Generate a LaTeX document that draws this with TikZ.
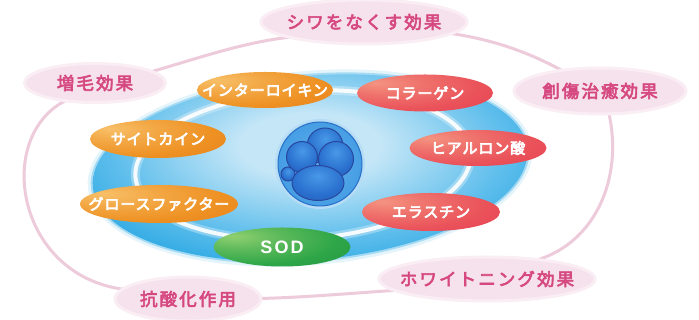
\documentclass[tikz,border=0pt]{standalone}
\usepackage{fontspec}
\usetikzlibrary{shapes.geometric}

\newfontfamily\effectfont{Noto Sans CJK JP}[LetterSpace=12, FakeBold=3.5]
\newfontfamily\agentfont{Noto Sans CJK JP}[LetterSpace=6, FakeBold=4.5]
\newfontfamily\latinagent{Liberation Sans}[LetterSpace=12]

% palette
\definecolor{LabFill}{RGB}{246,226,236}
\definecolor{LabEdge}{RGB}{250,238,244}
\definecolor{LabText}{RGB}{214,72,128}
\definecolor{LoopPink}{RGB}{237,203,218}
\definecolor{OrHi}{RGB}{248,192,105}
\definecolor{OrMain}{RGB}{238,145,35}
\definecolor{OrDark}{RGB}{226,116,25}
\definecolor{RedHi}{RGB}{244,148,128}
\definecolor{RedMain}{RGB}{234,82,90}
\definecolor{RedDark}{RGB}{226,56,76}
\definecolor{GrHi}{RGB}{145,208,112}
\definecolor{GrMain}{RGB}{46,166,72}
\definecolor{GrDark}{RGB}{28,140,60}
\definecolor{DiscCore}{RGB}{196,230,247}
\definecolor{DiscMid}{RGB}{95,190,236}
\definecolor{DiscMain}{RGB}{28,162,224}
\definecolor{CellHi}{RGB}{95,178,236}
\definecolor{CellMain}{RGB}{55,145,222}
\definecolor{CellLine}{RGB}{38,112,200}
\definecolor{BlobHi}{RGB}{72,152,232}
\definecolor{BlobMain}{RGB}{42,112,206}
\definecolor{BlobDark}{RGB}{36,78,170}
\definecolor{BlobLine}{RGB}{40,72,160}

% shadings
\pgfdeclareradialshading{orangeball}{\pgfpoint{-18bp}{14bp}}{color(0bp)=(OrHi); color(14bp)=(OrHi!50!OrMain); color(32bp)=(OrMain); color(62bp)=(OrDark); color(100bp)=(OrDark)}
\pgfdeclareradialshading{redball}{\pgfpoint{-18bp}{14bp}}{color(0bp)=(RedHi); color(14bp)=(RedHi!50!RedMain); color(32bp)=(RedMain); color(62bp)=(RedDark); color(100bp)=(RedDark)}
\pgfdeclareradialshading{greenball}{\pgfpoint{-18bp}{14bp}}{color(0bp)=(GrHi); color(14bp)=(GrHi!50!GrMain); color(32bp)=(GrMain); color(62bp)=(GrDark); color(100bp)=(GrDark)}
\pgfdeclareradialshading{discshade}{\pgfpoint{0bp}{6bp}}{color(0bp)=(DiscCore); color(8bp)=(DiscCore); color(22bp)=(DiscMid); color(33bp)=(DiscMain); color(100bp)=(DiscMain)}
\pgfdeclareradialshading{cellball}{\pgfpoint{0bp}{0bp}}{color(0bp)=(CellHi); color(40bp)=(CellMain); color(50bp)=(CellLine); color(100bp)=(CellLine)}
\pgfdeclareradialshading{blobball}{\pgfpoint{0bp}{10bp}}{color(0bp)=(BlobHi); color(24bp)=(BlobMain); color(50bp)=(BlobDark); color(100bp)=(BlobDark)}

\tikzset{
  centred/.style={execute at begin node=\hbox to 0pt\bgroup\hss, execute at end node=\hss\egroup},
  effect/.style={ellipse, centred, inner sep=0pt, fill=LabFill, draw=LabEdge, line width=3pt,
    text=LabText, font=\effectfont\fontsize{17.5}{20}\selectfont},
  loopline/.style={draw=LoopPink, line width=3pt},
  agent/.style={ellipse, centred, inner sep=0pt, text=white,
    font=\agentfont\fontsize{15}{18}\selectfont},
  orangeagent/.style={agent, shading=orangeball},
  redagent/.style={agent, shading=redball},
  greenagent/.style={agent, shading=greenball, font=\latinagent\bfseries\fontsize{18}{20}\selectfont},
  blob/.style={shading=blobball, draw=BlobLine, line width=1pt},
}

\begin{document}
\begin{tikzpicture}[x=1pt,y=1pt]
\useasboundingbox (0,0) rectangle (699,320);
\fill[white] (0,0) rectangle (699,320);

% anchors for the loop, placed where the labels will sit
\coordinate (wrinkleC) at (364,298);
\coordinate (hairC) at (95,237);
\coordinate (woundC) at (600,229);
\coordinate (whitenC) at (487,41);
\coordinate (antiC) at (188,21);

% the loop joining the effects, drawn first so the labels cover its ends
\draw[loopline] (140,245) .. controls (200,262) and (245,279) .. (300,284);
\draw[loopline] (440,288) .. controls (490,282) and (530,268) .. (570,245);
\draw[loopline] (607,214) .. controls (625,150) and (600,75) .. (530,58);
\draw[loopline] (400,30) .. controls (340,26) and (300,22) .. (240,21);
\draw[loopline] (130,30) .. controls (10,40) and (-10,200) .. (80,225);

% effect labels
\node[effect, minimum width=206pt, minimum height=44pt] (wrinkle) at (wrinkleC) {シワをなくす効果};
\node[effect, minimum width=141pt, minimum height=39pt] (hair) at (hairC) {増毛効果};
\node[effect, minimum width=172pt, minimum height=46pt] (wound) at (woundC) {創傷治癒効果};
\node[effect, minimum width=216pt, minimum height=44pt] (whiten) at (whitenC) {ホワイトニング効果};
\node[effect, minimum width=146pt, minimum height=44pt] (anti) at (antiC) {抗酸化作用};

% blue disc with a soft rim
\fill[DiscMain!12, rotate around={5:(310,152)}] (310,152) ellipse [x radius=223, y radius=97];
\fill[DiscMain!40, rotate around={5:(310,152)}] (310,152) ellipse [x radius=220, y radius=94];
\shade[shading=discshade, rotate around={5:(310,152)}] (310,152) ellipse [x radius=218, y radius=92];

% white ring on the disc
\draw[white, line width=9pt, opacity=.3, rotate around={4:(303,155)}] (303,155) ellipse [x radius=168, y radius=74];
\draw[white, line width=4pt, opacity=.9, rotate around={4:(303,155)}] (303,155) ellipse [x radius=168, y radius=74];

% cell in the centre
\fill[CellHi!45] (320,156) circle [radius=45];
\node[circle, minimum size=84pt, inner sep=0pt, shading=cellball, draw=CellLine, line width=1pt] (cell) at (320,156) {};
\shade[blob] (325,174) circle [radius=18];
\shade[blob] (288,146) circle [radius=7];
\shade[blob] (302,163) circle [radius=15.5];
\shade[blob] (336,161) circle [radius=17.5];
\shade[blob] (318,137) ellipse [x radius=26, y radius=17.5];

% agents around the cell
\node[orangeagent, minimum width=136pt, minimum height=36pt] (interleukin) at (265,230) {インターロイキン};
\node[orangeagent, minimum width=136pt, minimum height=38pt] (cytokine) at (158,181) {サイトカイン};
\node[orangeagent, minimum width=158pt, minimum height=38pt] (growth) at (159,116) {グロースファクター};
\node[redagent, minimum width=136pt, minimum height=37pt] (collagen) at (425,227) {コラーゲン};
\node[redagent, minimum width=137pt, minimum height=36pt] (hyaluronic) at (478,172) {ヒアルロン酸};
\node[redagent, minimum width=138pt, minimum height=38pt] (elastin) at (431,108) {エラスチン};
\node[greenagent, minimum width=137pt, minimum height=39pt] (sod) at (282,73) {SOD};
\end{tikzpicture}
\end{document}
